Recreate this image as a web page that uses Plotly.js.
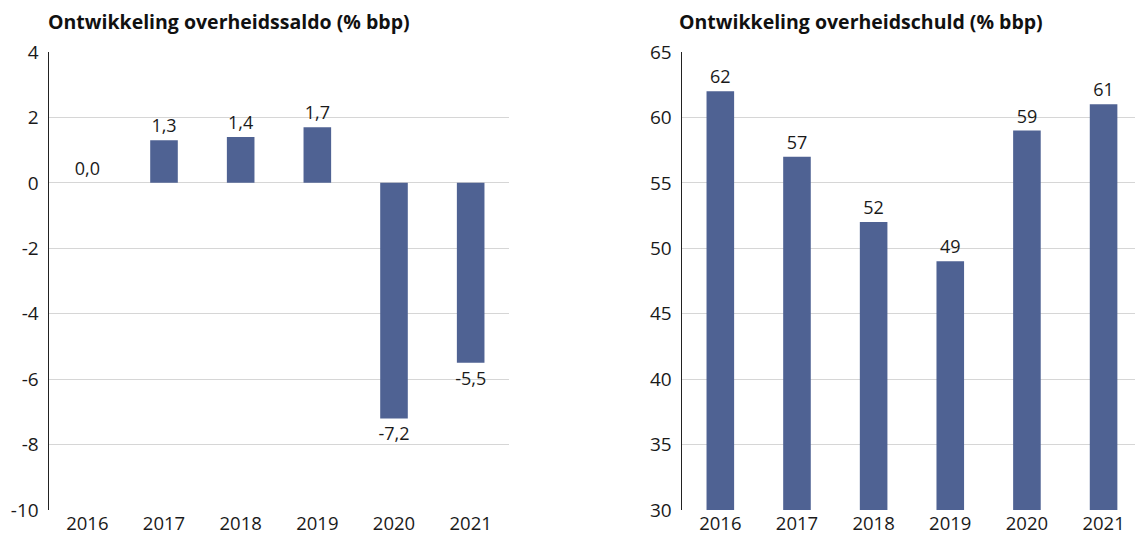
<!DOCTYPE html>
<html>
<head>
<meta charset="utf-8">
<script src="https://cdn.plot.ly/plotly-3.0.1.min.js"></script>
<style>html,body{margin:0;padding:0;background:#fff}#chart{width:1135px;height:540px}</style>
</head>
<body>
<div id="chart"></div>
<script>
const years = ["2016", "2017", "2018", "2019", "2020", "2021"];
const saldo = [0.0, 1.3, 1.4, 1.7, -7.2, -5.5];
const schuld = [62, 57, 52, 49, 59, 61];
const titleSaldo = "Ontwikkeling overheidssaldo (% bbp)";
const titleSchuld = "Ontwikkeling overheidschuld (% bbp)";
const saldoTicks = [4, 2, 0, -2, -4, -6, -8, -10];
const schuldTicks = [65, 60, 55, 50, 45, 40, 35, 30];

const fmt = v => v.toFixed(1).replace('.', ',');
const barColor = '#4f6293';
const font = {family: '"Open Sans", "Noto Sans", sans-serif', color: '#1a1a1a'};

const traces = [
  {
    type: 'bar', x: years, y: saldo, xaxis: 'x', yaxis: 'y',
    marker: {color: barColor},
    text: saldo.map(fmt), textposition: 'outside', constraintext: 'none',
    cliponaxis: false, textfont: {size: 18, color: '#1a1a1a'},
    hoverinfo: 'none'
  },
  {
    type: 'bar', x: years, y: schuld, xaxis: 'x2', yaxis: 'y2',
    marker: {color: barColor},
    text: schuld.map(String), textposition: 'outside', constraintext: 'none',
    cliponaxis: false, textfont: {size: 18, color: '#1a1a1a'},
    hoverinfo: 'none'
  }
];

const yCommon = {
  showgrid: true, gridcolor: '#d6d6d6', gridwidth: 1,
  zeroline: false, showline: true, linecolor: '#222', linewidth: 1.5,
  ticks: '', tickfont: {size: 19, color: '#1a1a1a'}, ticklabelstandoff: 5,
  fixedrange: true
};
const xCommon = {
  type: 'category', showgrid: false, zeroline: false, showline: false,
  ticks: '', tickfont: {size: 18.5, color: '#1a1a1a'}, ticklabelstandoff: 0,
  fixedrange: true
};

const layout = {
  width: 1135, height: 540,
  margin: {l: 0, r: 0, t: 52, b: 30},
  paper_bgcolor: '#fff', plot_bgcolor: '#fff',
  font: font, showlegend: false, bargap: 0.64,
  xaxis: Object.assign({}, xCommon, {domain: [49/1135, 509/1135], range: [-0.5, 5.5], anchor: 'y'}),
  yaxis: Object.assign({}, yCommon, {range: [-10, 4], tickvals: saldoTicks, ticktext: saldoTicks.map(String), anchor: 'x'}),
  xaxis2: Object.assign({}, xCommon, {domain: [682/1135, 1], range: [-0.5, 5.41], anchor: 'y2'}),
  yaxis2: Object.assign({}, yCommon, {range: [30, 65], tickvals: schuldTicks, ticktext: schuldTicks.map(String), anchor: 'x2'}),
  annotations: [
    {text: '<b>' + titleSaldo + '</b>', xref: 'paper', yref: 'paper', x: 46/1135, y: 1, yshift: 31, xanchor: 'left', yanchor: 'middle', showarrow: false, font: {size: 19.5, color: '#111'}},
    {text: '<b>' + titleSchuld + '</b>', xref: 'paper', yref: 'paper', x: 677/1135, y: 1, yshift: 31, xanchor: 'left', yanchor: 'middle', showarrow: false, font: {size: 19.5, color: '#111'}}
  ]
};

Plotly.newPlot('chart', traces, layout, {displayModeBar: false, staticPlot: true});
</script>
</body>
</html>
